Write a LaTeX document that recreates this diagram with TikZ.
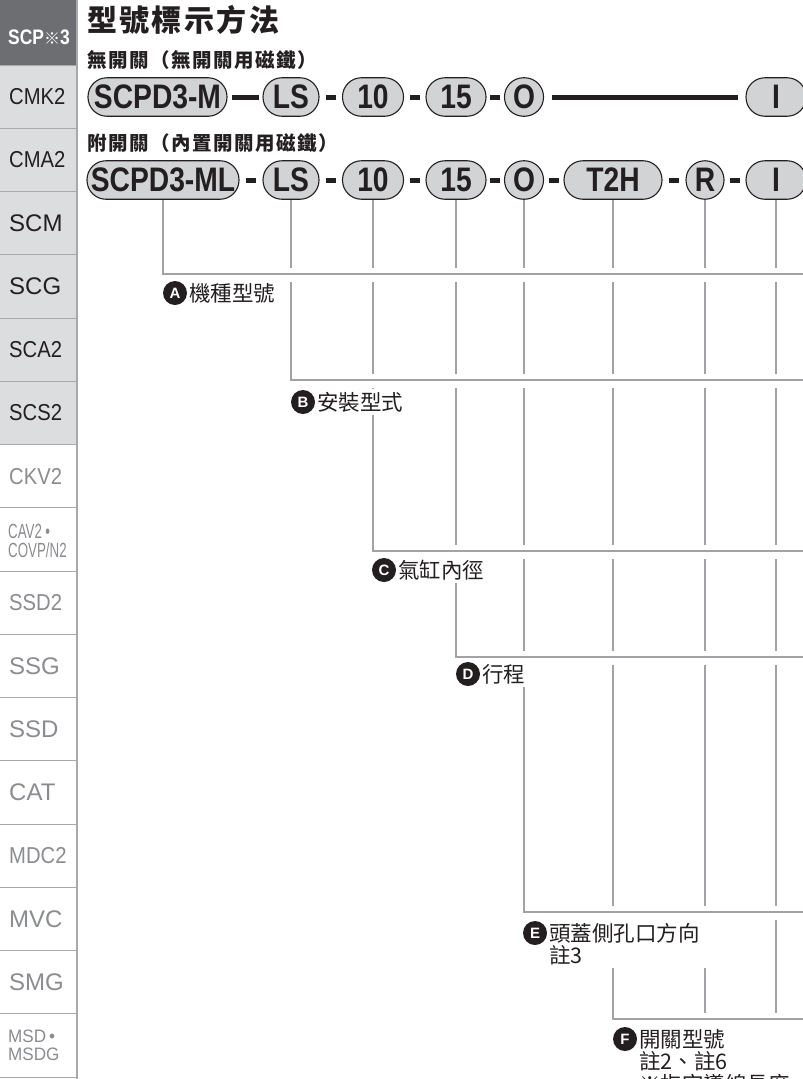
\documentclass[tikz,border=0pt]{standalone}
\usepackage{fontspec}
\setmainfont{Liberation Sans}
\newfontfamily\cjk{Noto Sans CJK TC}
\newfontfamily\cjkwide{Noto Sans CJK TC}[LetterSpace=8]
\newfontfamily\codefont{Liberation Sans}[FakeStretch=0.83]
\newfontfamily\tabfour{Liberation Sans}[FakeStretch=0.88]
\newfontfamily\tabnarrow{Liberation Sans}[FakeStretch=0.65]
\newfontfamily\tabslim{Liberation Sans}[FakeStretch=0.95]
\usetikzlibrary{positioning}

\definecolor{ink}{HTML}{231F20}
\definecolor{pillgray}{HTML}{D1D3D4}
\definecolor{linegray}{HTML}{A0A2A5}
\definecolor{tabdark}{HTML}{6D6E71}
\definecolor{tablight}{HTML}{DCDDDE}
\definecolor{tabtext}{HTML}{8A8C8F}
\definecolor{tabrule}{HTML}{A7A9AC}

\tikzset{
  pill/.style={draw=ink, line width=1.1pt, fill=pillgray, rounded corners=19pt,
    minimum height=38.5pt, minimum width=#1pt, inner sep=0pt, text=ink,
    font=\codefont\bfseries\fontsize{34}{34}\selectfont},
  dashbar/.style={fill=ink, inner sep=0pt, minimum width=10pt, minimum height=5pt},
  guide/.style={draw=linegray, line width=2.2pt},
  gapband/.style={draw=white, line width=14pt},
  badge/.style={circle, fill=ink, text=white, inner sep=0pt, minimum size=24pt,
    font=\bfseries\fontsize{15}{15}\selectfont},
  note/.style={fill=white, inner xsep=6pt, inner ysep=3pt, anchor=west, text=ink,
    align=left, font=\cjk\fontsize{21.5}{22.5}\selectfont},
  tabname/.style={anchor=west, inner sep=0pt, font=\fontsize{24}{24}\selectfont},
  heading/.style={anchor=base west, inner sep=0pt, text=ink},
}

\begin{document}
\begin{tikzpicture}[x=1pt,y=-1pt]
\useasboundingbox (0,0) rectangle (803,1079);
\clip (0,0) rectangle (803,1079);

% side tabs
\fill[tabdark] (0,0) rectangle (77,65);
\fill[tablight] (0,65) rectangle (77,444.5);
\foreach \i in {1,...,17}
    \draw[tabrule, line width=1pt] (0,{1.75+63.25*\i}) -- (77,{1.75+63.25*\i});
\draw[tabrule, line width=1.6pt] (77,0) -- (77,1079);

\node[tabname, text=white, font=\codefont\bfseries\fontsize{21}{21}\selectfont] (tab0)
    at (8,37.5) {SCP{\cjk\fontsize{16}{16}\selectfont ※}3};
\foreach \i/\t in {1/CMK2,2/CMA2,5/SCA2,6/SCS2}
    \node[tabname, text=ink, font=\tabfour\fontsize{23}{23}\selectfont] (tab\i)
        at (9,{1.75+63.25*(\i+0.5)}) {\t};
\foreach \i/\t in {3/SCM,4/SCG}
    \node[tabname, text=ink] (tab\i) at (9,{1.75+63.25*(\i+0.5)}) {\t};
\foreach \i/\t in {7/CKV2,9/SSD2,13/MDC2}
    \node[tabname, text=tabtext, font=\tabfour\fontsize{23}{23}\selectfont] (tab\i)
        at (9,{1.75+63.25*(\i+0.5)}) {\t};
\foreach \i/\t in {10/SSG,11/SSD,12/CAT,14/MVC,15/SMG}
    \node[tabname, text=tabtext] (tab\i) at (9,{1.75+63.25*(\i+0.5)}) {\t};
\node[tabname, text=tabtext, align=left, font=\tabnarrow\fontsize{20.5}{19}\selectfont] (tab8)
    at (8,540.5) {CAV2\,•\\COVP/N2};
\node[tabname, text=tabtext, align=left, font=\tabslim\fontsize{18}{17.5}\selectfont] (tab16)
    at (8,1045.5) {MSD\,•\\MSDG};

% headings
\node[heading, font=\cjkwide\bfseries\fontsize{30}{30}\selectfont] (title) at (87,31.5) {型號標示方法};
\node[heading, font=\cjkwide\bfseries\fontsize{19.5}{19.5}\selectfont] (sub1) at (87,67.5) {無開關（無開關用磁鐵）};
\node[heading, font=\cjkwide\bfseries\fontsize{19.5}{19.5}\selectfont] (sub2) at (87,150.5) {附開關（內置開關用磁鐵）};

% code without switch
\node[pill=139] (m1) at (157.5,97) {SCPD3-M};
\node[pill=56] (ls1) at (291,97) {LS};
\node[pill=61] (bore1) at (373,97) {10};
\node[pill=60] (stroke1) at (456,97) {15};
\node[pill=39] (port1) at (524,97) {O};
\node[pill=60] (opt1) at (776,97) {I};
\path (m1.east) -- (ls1.west) node[midway, dashbar, minimum width=27pt] (bar1) {};
\foreach \a/\b [count=\k] in {ls1/bore1,bore1/stroke1,stroke1/port1}
    \path (\a.east) -- (\b.west) node[midway, dashbar] (dashu\k) {};
\draw[ink, line width=5pt, shorten <=8pt, shorten >=7pt] (port1.east) -- (opt1.west);

% code with switch
\node[pill=152] (m2) at (163,180) {SCPD3-ML};
\node[pill=56] (ls2) at (291,180) {LS};
\node[pill=61] (bore2) at (373,180) {10};
\node[pill=60] (stroke2) at (456,180) {15};
\node[pill=39] (port2) at (524,180) {O};
\node[pill=98] (sw2) at (613,180) {T2H};
\node[pill=38] (qty2) at (705,180) {R};
\node[pill=60] (opt2) at (776,180) {I};
\foreach \a/\b [count=\k] in {m2/ls2,ls2/bore2,bore2/stroke2,stroke2/port2,port2/sw2,sw2/qty2,qty2/opt2}
    \path (\a.east) -- (\b.west) node[midway, dashbar] (dash\k) {};

% guide lines
\foreach \p/\y in {m2/274,ls2/380,bore2/551,stroke2/657,port2/912,sw2/1019}
    \draw[guide] (\p.south) |- (812,\y);
\foreach \p in {qty2,opt2}
    \draw[guide] (\p.south) -- ++(0,900);
\foreach \x/\y in {163/274,291/380,373/551,456/657,524/912,613/1019} {
    \draw[gapband] (\x+1.2,\y+1) -- (812,\y+1);
    \draw[guide] (\x,\y) -- (812,\y);
}

% item labels
\node[note] (tA) at (183,293) {機種型號};
\node[badge] (bA) at (175,293) {A};
\node[note] (tB) at (311,402) {安裝型式};
\node[badge] (bB) at (303,402) {B};
\node[note] (tC) at (392,570) {氣缸內徑};
\node[badge] (bC) at (384,570) {C};
\node[note] (tD) at (476,674) {行程};
\node[badge] (bD) at (468,674) {D};
\node[note] (tE) at (543,944) {頭蓋側孔口方向\\註3};
\node[badge] (bE) at (535,933) {E};
\node[note] (tF) at (633,1061.5) {開關型號\\註2、註6\\※指定導線長度};
\node[badge] (bF) at (625,1039) {F};
\end{tikzpicture}
\end{document}
